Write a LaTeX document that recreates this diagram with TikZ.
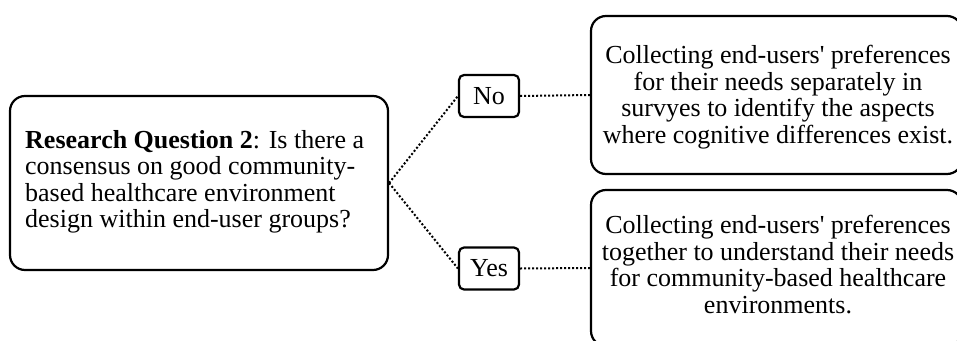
\documentclass[tikz,border=0pt]{standalone}
\usepackage{fontspec}
\setmainfont{Liberation Serif}
% straight apostrophe as printed in the labels (no TeX quote mapping)
\newcommand\apos{{\addfontfeatures{Ligatures=TeXOff}'}}
\begin{document}
\begin{tikzpicture}[x=1pt,y=-1pt,
  box/.style={draw, line width=2.2pt, rounded corners=15pt, inner sep=0pt},
  tag/.style={draw, line width=2.2pt, rounded corners=5pt, inner sep=0pt,
              minimum width=60pt, minimum height=42pt, font=\fontsize{26}{26.5}\selectfont},
  txt/.style={inner sep=0pt, font=\fontsize{26}{26.5}\selectfont},
  link/.style={line width=2pt, dash pattern=on 2pt off 2pt}]
\useasboundingbox (0,0) rectangle (957,340);
\clip (0,0) rectangle (957,340);

% question box on the left
\node[box, minimum width=378pt, minimum height=174pt] (rq) at (199,183) {};
\node[txt, align=left, anchor=north west] (rqt) at (25,130)
  {\textbf{Research Question 2}: Is there a\\
   consensus on good community-\\
   based healthcare environment\\
   design within end-user groups?};

% answer tags
\node[tag] (no) at (489,96) {No};
\node[tag] (yes) at (489,268.5) {Yes};

% outcome boxes on the right
\node[box, minimum width=371pt, minimum height=158pt] (sep) at (776.5,95) {};
\node[txt, align=center, anchor=north] (sept) at (778,45)
  {Collecting end-users\apos{} preferences\\
   for their needs separately in\\
   survyes to identify the aspects\\
   where cognitive differences exist.};

\node[box, minimum width=371pt, minimum height=156pt] (tog) at (776.5,268) {};
\node[txt, align=center, anchor=north] (togt) at (778,215)
  {Collecting end-users\apos{} preferences\\
   together to understand their needs\\
   for community-based healthcare\\
   environments.};

% dotted connectors
\draw[link] (rq.east) -- (no.west);
\draw[link] (rq.east) -- (yes.west);
\draw[link] (no.east) -- (sep.west);
\draw[link] (yes.east) -- (tog.west);
\end{tikzpicture}
\end{document}
